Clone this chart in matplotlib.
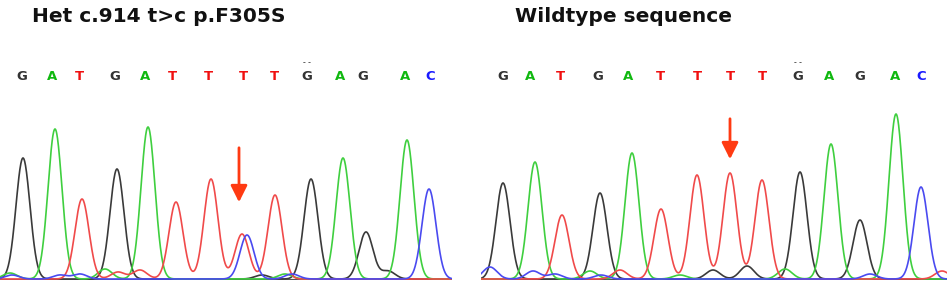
"""Cromatograma de secuenciacion: heterocigoto c.914 t>c frente a wildtype."""
import numpy as np
import matplotlib
matplotlib.use("Agg")
import matplotlib.pyplot as plt

plt.rcParams["font.family"] = ["Liberation Sans", "DejaVu Sans"]

# llamadas de bases (comunes a los dos paneles)
BASES = ["G", "A", "T", "G", "A", "T", "T", "T", "T", "G", "A", "G", "A", "C"]
POS_HET = [22, 52, 79, 115, 145, 172, 208, 243, 274, 307, 340, 363, 405, 430]
POS_WT = [503, 530, 560, 598, 628, 660, 697, 730, 762, 798, 829, 860, 895, 921]

# picos principales: (canal, posicion, altura)
HET_CH = ["G", "A", "T", "G", "A", "T", "T", "T", "C", "T", "G", "A", "G", "A", "C"]
HET_X = [23, 55, 82, 117, 148, 176, 211, 242, 247, 275, 311, 343, 366, 407, 429]
HET_H = [121, 150, 80, 110, 152, 77, 100, 45, 44, 84, 100, 121, 47, 139, 90]

WT_CH = ["G", "A", "T", "G", "A", "T", "T", "T", "T", "G", "A", "G", "A", "C"]
WT_X = [503, 535, 562, 600, 632, 661, 697, 730, 762, 800, 831, 860, 896, 921]
WT_H = [96, 117, 64, 86, 126, 70, 104, 106, 99, 107, 135, 59, 165, 92]

# ruido de fondo: (canal, posicion, altura)
HET_RUIDO_CH = ["C", "C", "C", "A", "A", "T", "T", "G", "G", "C", "A"]
HET_RUIDO_X = [12, 60, 80, 10, 105, 118, 140, 262, 388, 292, 285]
HET_RUIDO_H = [4, 4, 5, 6, 10, 7, 9, 4, 8, 5, 5]

WT_RUIDO_CH = ["C", "C", "C", "C", "A", "T", "T", "G", "G", "A", "A", "C"]
WT_RUIDO_X = [490, 533, 555, 601, 590, 620, 942, 713, 747, 785, 680, 870]
WT_RUIDO_H = [12, 8, 5, 4, 8, 9, 8, 9, 13, 10, 4, 5]

TITULOS = ["Het c.914 t>c p.F305S", "Wildtype sequence"]

COL_TRAZA = {"G": "#3a3a3a", "A": "#3fcf3f", "T": "#f04a4a", "C": "#4a4af0"}
COL_BASE = {"G": "#333333", "A": "#10b810", "T": "#f01010", "C": "#1a1aff"}
SIGMA = 7.0


def trazas(xs, canales, pos, alt, r_can, r_pos, r_alt):
    out = {c: np.zeros_like(xs) for c in "GATC"}
    for c, p, h in list(zip(canales, pos, alt)) + list(zip(r_can, r_pos, r_alt)):
        out[c] += h * np.exp(-(xs - p) ** 2 / (2 * SIGMA ** 2))
    return out


W, H = 949, 284
fig = plt.figure(figsize=(W / 100, H / 100), dpi=100)

paneles = [
    dict(x0=0, x1=452, pos=POS_HET, ch=HET_CH, px=HET_X, ph=HET_H,
         rc=HET_RUIDO_CH, rx=HET_RUIDO_X, rh=HET_RUIDO_H, flecha=(239, 135, 75),
         tx=32),
    dict(x0=481, x1=947, pos=POS_WT, ch=WT_CH, px=WT_X, ph=WT_H,
         rc=WT_RUIDO_CH, rx=WT_RUIDO_X, rh=WT_RUIDO_H, flecha=(730, 164, 118),
         tx=515),
]

base_y, top_y = 280, 45
for i, p in enumerate(paneles):
    ax = fig.add_axes([p["x0"] / W, (H - base_y) / H,
                       (p["x1"] - p["x0"]) / W, (base_y - top_y) / H])
    ax.set_xlim(p["x0"], p["x1"])
    ax.set_ylim(0, base_y - top_y)
    ax.axis("off")
    xs = np.linspace(p["x0"] - 20, p["x1"] + 20, 2000)
    tr = trazas(xs, p["ch"], p["px"], p["ph"], p["rc"], p["rx"], p["rh"])
    ax.axhline(0.5, color="#555555", lw=1.6, zorder=1)
    for c in ["G", "A", "T", "C"]:
        ax.plot(xs, tr[c] + 1, color=COL_TRAZA[c], lw=1.2, zorder=2)
    for b, x in zip(BASES, p["pos"]):
        ax.text(x, base_y - 76, b, color=COL_BASE[b], fontsize=9.5,
                fontweight="bold", ha="center", va="center",
                family=["DejaVu Sans"])
    # marca de calidad sobre la G
    ax.text(p["pos"][9], base_y - 62, "- -", color="#333333", fontsize=6,
            fontweight="bold", ha="center", va="center")
    fx, fy0, fy1 = p["flecha"]
    ax.annotate("", xy=(fx, fy1), xytext=(fx, fy0),
                arrowprops=dict(arrowstyle="-|>,head_width=0.5,head_length=1.0",
                                color="#ff3a12", lw=2))
    fig.text(p["tx"] / W, 1 - 17 / H, TITULOS[i], fontsize=14.5,
             fontweight="bold", ha="left", va="center", color="#111111",
             family=["DejaVu Sans"])

fig.savefig("out.png", dpi=100)
